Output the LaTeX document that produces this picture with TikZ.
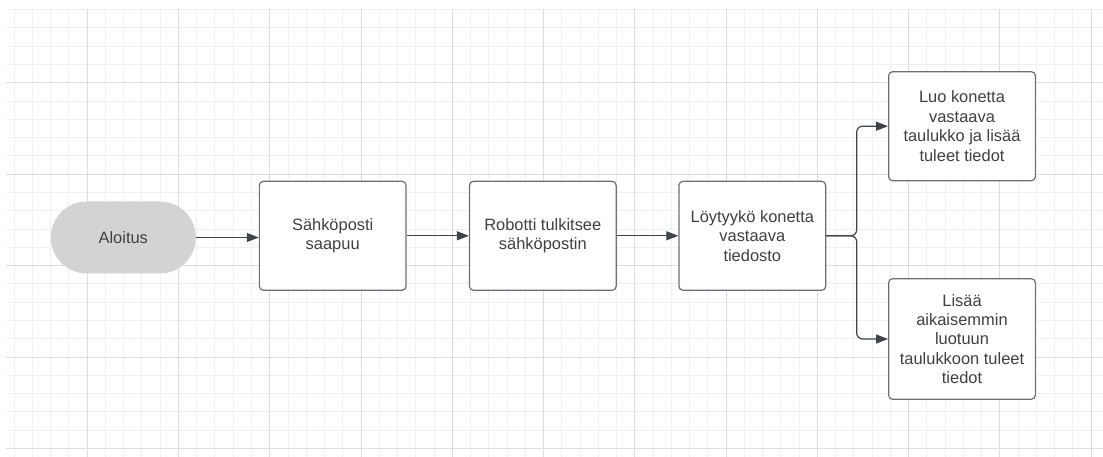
\documentclass[tikz,border=0pt]{standalone}
\usepackage{fontspec}
\setmainfont{Liberation Sans}
\usetikzlibrary{arrows.meta}
\definecolor{gridminor}{HTML}{F0F0F0}
\definecolor{gridmajor}{HTML}{DDDDDD}
\definecolor{boxline}{HTML}{6B6F75}
\definecolor{flowline}{HTML}{3F444B}
\definecolor{txt}{HTML}{404040}
\definecolor{startfill}{HTML}{D3D3D3}

\begin{document}
\begin{tikzpicture}[x=1bp, y=-1bp,
  every node/.style={font=\fontsize{16.5}{19.5}\selectfont, text=txt, align=center, inner sep=0pt},
  stepbox/.style={draw=boxline, line width=1.2bp, rounded corners=4bp, fill=white,
    minimum width=146.7bp, minimum height=109bp},
  startbox/.style={fill=startfill, rounded corners=36bp, minimum width=145bp, minimum height=72bp},
  flow/.style={draw=flowline, line width=1.2bp, -{Triangle[length=12bp,width=9bp]}}]
\useasboundingbox (0,0) rectangle (1103,457);
\foreach \k in {0,...,24} \draw[gridminor, line width=1bp] (6,{round(9.1+18.29*\k)+0.5}) -- (1103,{round(9.1+18.29*\k)+0.5});
\foreach \m in {-4,...,55} \draw[gridminor, line width=1bp] ({round(86.7+18.255*\m)+0.5},9.1) -- ({round(86.7+18.255*\m)+0.5},457);
\foreach \k in {4,9,...,24} \draw[gridmajor, line width=1bp] (6,{round(9.1+18.29*\k)+0.5}) -- (1103,{round(9.1+18.29*\k)+0.5});
\foreach \m in {0,...,11} \draw[gridmajor, line width=1bp] ({round(86.7+91.27*\m)+0.5},9.1) -- ({round(86.7+91.27*\m)+0.5},457);
\node[startbox] (start) at (123.3,237.5) {Aloitus};
\node[stepbox] (mail) at (332.7,235.8) {Sähköposti\\saapuu};
\node[stepbox] (robot) at (542.8,235.8) {Robotti tulkitsee\\sähköpostin};
\node[stepbox] (check) at (752.3,235.8) {Löytyykö konetta\\vastaava\\tiedosto};
\node[stepbox] (create) at (962,126.2) {Luo konetta\\vastaava\\taulukko ja lisää\\tuleet tiedot};
\node[stepbox, minimum height=120.6bp] (append) at (962,339) {Lisää\\aikaisemmin\\luotuun\\taulukkoon tuleet\\tiedot};
\coordinate (fork) at (856.7,235.8);
\draw[flow] (start.east) -- (mail.west |- start.east);
\draw[flow] (mail.east) -- (robot.west);
\draw[flow] (robot.east) -- (check.west);
\draw[flow, rounded corners=6bp] (check.east) -- (fork) |- (create.west);
\draw[flow, rounded corners=6bp] (check.east) -- (fork) |- (append.west);
\end{tikzpicture}
\end{document}
